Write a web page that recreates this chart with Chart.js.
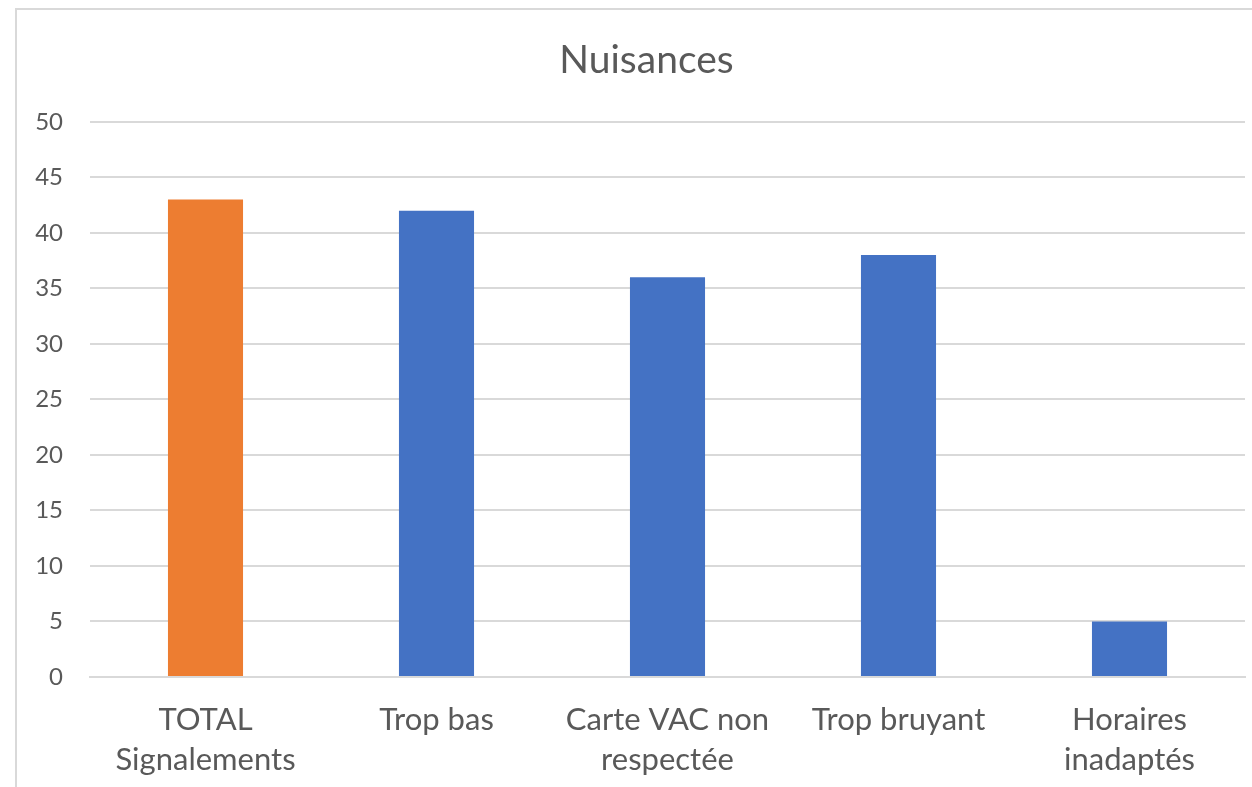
<!DOCTYPE html>
<html>
<head>
<meta charset="utf-8">
<script src="https://cdn.jsdelivr.net/npm/chart.js@4/dist/chart.umd.min.js"></script>
<style>
  html, body { margin: 0; padding: 0; background: #fff; overflow: hidden; }
  #cadre { position: absolute; left: 15px; top: 8px; width: 1300px; height: 900px; border: 2px solid #d9d9d9; }
  #zone { position: absolute; left: 0; top: 0; width: 1252px; height: 787px; }
</style>
</head>
<body>
<div id="cadre"></div>
<div id="zone"><canvas id="graphique"></canvas></div>
<script>
// Nuisances — nombre de signalements par type
const categories = [
  ['TOTAL', 'Signalements'],
  ['Trop bas'],
  ['Carte VAC non', 'respectée'],
  ['Trop bruyant'],
  ['Horaires', 'inadaptés'],
];
const valeurs = [43, 42, 36, 38, 5];
const graduations = [0, 5, 10, 15, 20, 25, 30, 35, 40, 45, 50];

const ORANGE = '#ED7D31';
const BLEU = '#4472C4';
const GRIS_TEXTE = '#595959';
const GRIS_GRILLE = '#d9d9d9';
const POLICE = 'Lato, "Open Sans", sans-serif';

// la barre du total en orange, les autres en bleu
const couleurs = categories.map((c, i) => (i === 0 ? ORANGE : BLEU));

// le titre est centré sur le cadre, un peu à droite du centre du canvas
const decalageTitre = {
  id: 'decalageTitre',
  afterLayout(chart) {
    if (chart.titleBlock) chart.titleBlock.left += 32;
  },
};

new Chart(document.getElementById('graphique'), {
  type: 'bar',
  data: {
    labels: categories,
    datasets: [{ data: valeurs, backgroundColor: couleurs, categoryPercentage: 1, barPercentage: 0.325 }],
  },
  plugins: [decalageTitre],
  options: {
    responsive: true,
    maintainAspectRatio: false,
    animation: false,
    layout: { padding: { left: 16, right: 7, top: 0, bottom: 0 } },
    plugins: {
      legend: { display: false },
      tooltip: { enabled: false },
      title: {
        display: true,
        text: 'Nuisances',
        color: GRIS_TEXTE,
        font: { family: POLICE, size: 39, weight: 'normal', lineHeight: 1.2 },
        padding: { top: 37, bottom: 38 },
      },
    },
    scales: {
      x: {
        grid: { display: false, drawTicks: false },
        border: { color: GRIS_GRILLE, width: 2 },
        ticks: { color: GRIS_TEXTE, font: { family: POLICE, size: 31, lineHeight: '40px' }, padding: 23, maxRotation: 0, autoSkip: false },
        afterFit: (scale) => { scale.height = 110; },
      },
      y: {
        min: 0,
        max: 50,
        afterBuildTicks: (scale) => { scale.ticks = graduations.map((v) => ({ value: v })); },
        grid: { color: GRIS_GRILLE, lineWidth: 2, drawTicks: false },
        border: { display: false },
        ticks: { color: GRIS_TEXTE, font: { family: POLICE, size: 24 }, padding: 27 },
        afterFit: (scale) => { scale.width = 74; },
      },
    },
  },
});
</script>
</body>
</html>
